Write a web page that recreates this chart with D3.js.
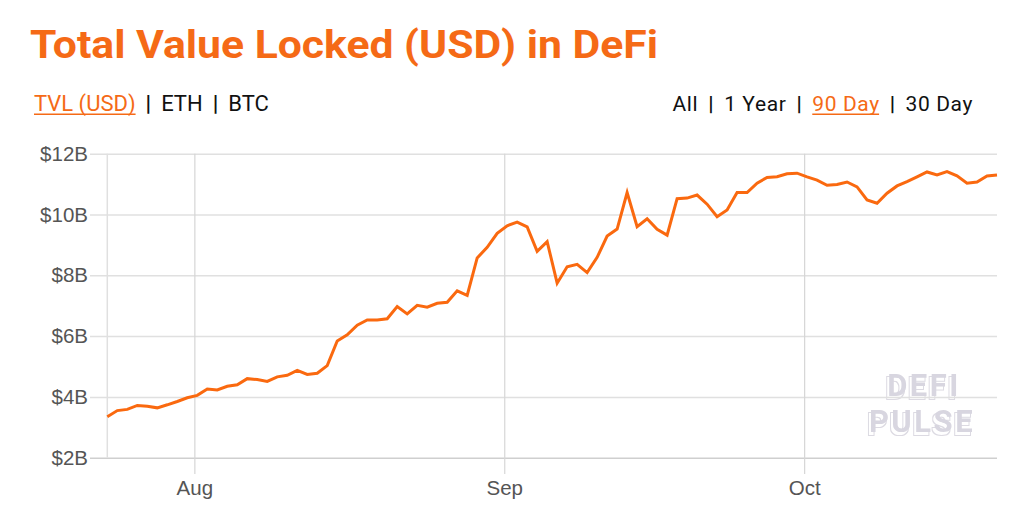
<!DOCTYPE html>
<html>
<head>
<meta charset="utf-8">
<script src="https://cdn.jsdelivr.net/npm/d3@7"></script>
<style>
  body { margin: 0; background: #fff; }
  svg { display: block; }
</style>
</head>
<body>
<svg id="chart" width="1024" height="510"></svg>
<script>
// daily TVL, billions USD, 90 days starting at startDate
var startDate = "2020-07-23T07:00:00Z";
var tvl = [
  3.35, 3.55, 3.59, 3.72, 3.69, 3.64, 3.74, 3.85, 3.97, 4.05,
  4.26, 4.23, 4.35, 4.40, 4.60, 4.57, 4.51, 4.66, 4.71, 4.87,
  4.74, 4.78, 5.03, 5.84, 6.04, 6.36, 6.53, 6.53, 6.57, 6.97,
  6.73, 7.01, 6.95, 7.08, 7.11, 7.49, 7.34, 8.57, 8.92, 9.38,
  9.63, 9.75, 9.59, 8.79, 9.11, 7.74, 8.28, 8.36, 8.09, 8.59,
  9.29, 9.52, 10.72, 9.60, 9.86, 9.51, 9.32, 10.52, 10.54, 10.64,
  10.34, 9.93, 10.15, 10.72, 10.72, 11.03, 11.22, 11.24, 11.34, 11.36,
  11.24, 11.13, 10.96, 10.99, 11.07, 10.91, 10.48, 10.37, 10.70, 10.94,
  11.08, 11.24, 11.40, 11.30, 11.41, 11.27, 11.03, 11.07, 11.27, 11.30
];
var yTicks = [2, 4, 6, 8, 10, 12];
var leftTabs = ["TVL (USD)", "ETH", "BTC"];
var rightTabs = ["All", "1 Year", "90 Day", "30 Day"];
var activeLeft = "TVL (USD)";
var activeRight = "90 Day";

var ORANGE = "#f56a16";
var LINE = "#fa690f";

var svg = d3.select("#chart");

var t0 = new Date(startDate);
var data = tvl.map(function(v, i) {
  return {date: d3.utcDay.offset(t0, i), value: v};
});

var plot = {left: 107.3, right: 997, top: 153.7, bottom: 457.7};

var x = d3.scaleUtc()
  .domain(d3.extent(data, function(d) { return d.date; }))
  .range([plot.left, plot.right]);
var y = d3.scaleLinear()
  .domain([2, 12])
  .range([plot.bottom, plot.top]);

// shadow outline for the watermark
var defs = svg.append("defs");
var f = defs.append("filter").attr("id", "wmShadow")
  .attr("x", "-20%").attr("y", "-30%").attr("width", "140%").attr("height", "160%");
f.append("feOffset").attr("in", "SourceAlpha").attr("dx", -2.5).attr("dy", 2.5).attr("result", "off");
f.append("feMorphology").attr("in", "off").attr("operator", "dilate").attr("radius", 0.9).attr("result", "dil");
f.append("feComposite").attr("in", "dil").attr("in2", "off").attr("operator", "out").attr("result", "ring");
f.append("feFlood").attr("flood-color", "#dcdae2").attr("result", "col");
f.append("feComposite").attr("in", "col").attr("in2", "ring").attr("operator", "in").attr("result", "ringCol");
var fm = f.append("feMerge");
fm.append("feMergeNode").attr("in", "ringCol");
fm.append("feMergeNode").attr("in", "SourceGraphic");

// title
svg.append("text")
  .attr("x", 30).attr("y", 58)
  .attr("font-family", "Roboto, sans-serif")
  .attr("font-weight", 700)
  .attr("font-size", 38)
  .attr("fill", ORANGE)
  .attr("textLength", 628)
  .attr("lengthAdjust", "spacingAndGlyphs")
  .text("Total Value Locked (USD) in DeFi");

// tab rows
function drawTabs(tabs, active, xpos, anchorEnd, size, spacing, gap) {
  var g = svg.append("g")
    .attr("font-family", "Roboto, sans-serif")
    .attr("font-size", size)
    .attr("letter-spacing", spacing);
  var parts = [];
  tabs.forEach(function(t, i) {
    if (i > 0) parts.push({t: "|", sep: true});
    parts.push({t: t, on: t === active});
  });
  var cx = 0;
  parts.forEach(function(p) {
    p.el = g.append("text").attr("y", 111)
      .attr("fill", p.on ? ORANGE : "#111")
      .attr("font-weight", p.sep ? 700 : 400)
      .text(p.t);
    p.w = p.el.node().getComputedTextLength();
    p.x = cx;
    cx += p.w + gap;
  });
  var total = cx - gap;
  var shift = anchorEnd ? xpos - total : xpos;
  parts.forEach(function(p) {
    p.el.attr("x", p.x + shift);
    if (p.on) {
      g.append("rect")
        .attr("x", p.x + shift).attr("y", 113.5)
        .attr("width", p.w - spacing).attr("height", 1.5)
        .attr("fill", ORANGE);
    }
  });
}
drawTabs(leftTabs, activeLeft, 34, false, 22, 0, 10);
drawTabs(rightTabs, activeRight, 973, true, 21, 0.6, 10);

// watermark
var wm = svg.append("g")
  .attr("font-family", "Roboto, sans-serif")
  .attr("font-weight", 700)
  .attr("font-size", 31)
  .attr("text-anchor", "middle")
  .attr("letter-spacing", 2.5)
  .attr("fill", "#d8d6e0")
  .attr("filter", "url(#wmShadow)");
wm.append("text").attr("x", 924).attr("y", 396).text("DEFI");
wm.append("text").attr("x", 922).attr("y", 432).text("PULSE");

// horizontal grid + y labels
var yAxis = svg.append("g")
  .attr("transform", "translate(" + plot.right + ",0)")
  .call(d3.axisLeft(y)
    .tickValues(yTicks)
    .tickSize(plot.right - 90)
    .tickPadding(2)
    .tickFormat(function(d) { return "$" + d + "B"; }));
yAxis.select(".domain").remove();
yAxis.selectAll(".tick line")
  .attr("stroke", function(d) { return d === 2 ? "#cfcfcf" : "#e0e0e0"; })
  .attr("stroke-width", 1.5);
yAxis.selectAll(".tick text")
  .attr("font-family", "'Liberation Sans', Arial, sans-serif")
  .attr("font-size", 20.5)
  .attr("fill", "#555");

// vertical month lines + x labels
var xAxis = svg.append("g")
  .attr("transform", "translate(0," + plot.top + ")")
  .call(d3.axisBottom(x)
    .ticks(d3.utcMonth.every(1))
    .tickSize(474 - plot.top)
    .tickPadding(6)
    .tickFormat(d3.utcFormat("%b")));
xAxis.select(".domain").remove();
xAxis.selectAll(".tick line")
  .attr("stroke", "#d6d6d6")
  .attr("stroke-width", 1.2);
xAxis.selectAll(".tick text")
  .attr("font-family", "'Liberation Sans', Arial, sans-serif")
  .attr("font-size", 20.5)
  .attr("fill", "#555");

// left frame
svg.append("line")
  .attr("x1", plot.left).attr("x2", plot.left)
  .attr("y1", plot.top).attr("y2", plot.bottom)
  .attr("stroke", "#e0e0e0")
  .attr("stroke-width", 1.5);

// the series
var line = d3.line()
  .x(function(d) { return x(d.date); })
  .y(function(d) { return y(d.value); });

svg.append("path")
  .datum(data)
  .attr("fill", "none")
  .attr("stroke", LINE)
  .attr("stroke-width", 3)
  .attr("stroke-linejoin", "miter")
  .attr("d", line);
</script>
</body>
</html>
